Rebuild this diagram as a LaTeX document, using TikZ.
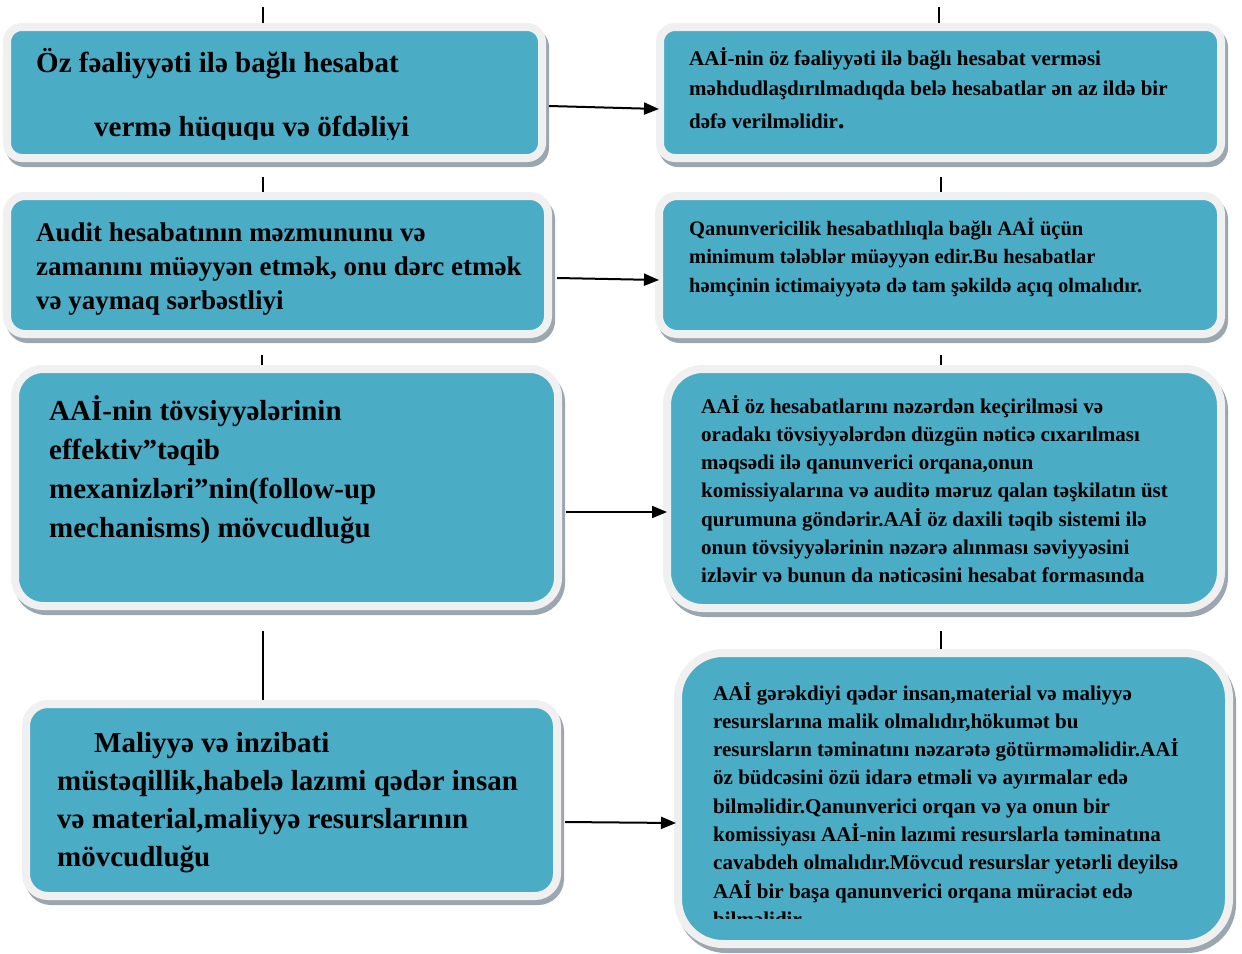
\documentclass[tikz,border=0pt]{standalone}
\usepackage{fontspec}
\setmainfont{Liberation Serif}
\usetikzlibrary{shadows,arrows.meta}
\definecolor{tealfill}{HTML}{4BACC6}
\definecolor{framec}{HTML}{F0F0F0}
\definecolor{shadc}{HTML}{9BA7B0}
\begin{document}
\begin{tikzpicture}[x=1pt,y=-1pt,
  box/.style={draw=framec, fill=tealfill, line width=8pt, inner sep=0pt,
    drop shadow={shadow xshift=3pt,shadow yshift=-5pt,opacity=1,fill=shadc,draw=shadc}},
  conn/.style={line width=2pt, draw=black},
  arr/.style={conn, -{Triangle[length=15pt,width=12pt]}},
  txt/.style={anchor=base west, inner sep=0pt, font=\bfseries}
]
\useasboundingbox[fill=white] (0,0) rectangle (1242,953);

% boxes
\node[box, minimum width=535pt, minimum height=131pt, rounded corners=15pt] (L1) at (274.5,92.5) {};
\node[box, minimum width=561pt, minimum height=131pt, rounded corners=15pt] (R1) at (940.5,92.5) {};
\node[box, minimum width=541pt, minimum height=138pt, rounded corners=18pt] (L2) at (277.5,265) {};
\node[box, minimum width=562pt, minimum height=138pt, rounded corners=18pt] (R2) at (940,265) {};
\node[box, minimum width=543pt, minimum height=237pt, rounded corners=28pt] (L3) at (286.5,487.5) {};
\node[box, minimum width=554pt, minimum height=239pt, rounded corners=36pt] (R3) at (944,488.5) {};
\node[box, minimum width=531pt, minimum height=192pt, rounded corners=22pt] (L4) at (291.5,800) {};
\node[box, minimum width=551pt, minimum height=291pt, rounded corners=45pt] (R4) at (953.5,798.5) {};

% free ends of the vertical ticks
\coordinate (t1l) at (263,7);
\coordinate (t1r) at (939,7);
\coordinate (t2l) at (263,177);
\coordinate (t2r) at (941,177);
\coordinate (t3l) at (262,355);
\coordinate (t3r) at (941,355);
\coordinate (t4l) at (263,631);
\coordinate (t4r) at (941,631);

\draw[conn] ([xshift=-11.5pt]L1.north) -- (t1l);
\draw[conn] ([xshift=-1.5pt]R1.north) -- (t1r);
\draw[conn] ([xshift=-14.5pt]L2.north) -- (t2l);
\draw[conn] ([xshift=1pt]R2.north) -- (t2r);
\draw[conn] ([xshift=-24.5pt]L3.north) -- (t3l);
\draw[conn] ([xshift=-3pt]R3.north) -- (t3r);
\draw[conn] ([xshift=-28.5pt]L4.north) -- (t4l);
\draw[conn] ([xshift=-12.5pt]R4.north) -- (t4r);

% arrows
\draw[arr] ([xshift=3pt,yshift=-13.5pt]L1.east) -- ([xshift=3pt,yshift=-16.5pt]R1.west);
\draw[arr] ([xshift=5pt,yshift=-13pt]L2.east) -- ([xshift=4pt,yshift=-15pt]R2.west);
\draw[arr] ([xshift=4pt,yshift=-24.5pt]L3.east) -- ([xshift=4pt,yshift=-23.5pt]R3.west);
\draw[arr] ([xshift=4pt,yshift=-22pt]L4.east) -- ([xshift=2pt,yshift=-24.5pt]R4.west);

% texts
\begin{scope}
\clip (0,0) rectangle (1242,139);
\node[txt] (L1t) at (36,72) {\parbox[t]{600pt}{\raggedright\fontsize{29}{64}\selectfont
Öz fəaliyyəti ilə bağlı hesabat\\
\hspace*{58pt}vermə hüququ və öfdəliyi}};
\end{scope}

\node[txt] (R1t) at (689,65) {\parbox[t]{600pt}{\raggedright\fontsize{21}{30}\selectfont
AAİ-nin öz fəaliyyəti ilə bağlı hesabat verməsi\\
məhdudlaşdırılmadıqda belə hesabatlar ən az ildə bir\\[3pt]
dəfə verilməlidir{\fontsize{27}{30}\selectfont .}}};

\node[txt] (L2t) at (36,241) {\parbox[t]{600pt}{\raggedright\fontsize{27}{34}\selectfont
Audit hesabatının məzmununu və\\
zamanını müəyyən etmək, onu dərc etmək\\
və yaymaq sərbəstliyi}};

\node[txt] (R2t) at (689,235) {\parbox[t]{600pt}{\raggedright\fontsize{20.5}{28.5}\selectfont
Qanunvericilik hesabatlılıqla bağlı AAİ üçün\\
minimum tələblər müəyyən edir.Bu hesabatlar\\
həmçinin ictimaiyyətə də tam şəkildə açıq olmalıdır.}};

\node[txt] (L3t) at (49,420) {\parbox[t]{600pt}{\raggedright\fontsize{29}{39}\selectfont
AAİ-nin tövsiyyələrinin\\
effektiv”təqib\\
mexanizləri”nin(follow-up\\
mechanisms) mövcudluğu}};

\node[txt] (R3t) at (701,413) {\parbox[t]{600pt}{\raggedright\fontsize{21}{28.3}\selectfont
AAİ öz hesabatlarını nəzərdən keçirilməsi və\\
oradakı tövsiyyələrdən düzgün nəticə cıxarılması\\
məqsədi ilə qanunverici orqana,onun\\
komissiyalarına və auditə məruz qalan təşkilatın üst\\
qurumuna göndərir.AAİ öz daxili təqib sistemi ilə\\
onun tövsiyyələrinin nəzərə alınması səviyyəsini\\
izləvir və bunun da nəticəsini hesabat formasında}};

\node[txt] (L4t) at (57,752) {\parbox[t]{600pt}{\raggedright\fontsize{29}{38.3}\selectfont
\hspace*{37pt}Maliyyə və inzibati\\
müstəqillik,habelə lazımi qədər insan\\
və material,maliyyə resurslarının\\
mövcudluğu}};

\begin{scope}
\clip (0,0) rectangle (1242,918);
\node[txt] (R4t) at (713,700) {\parbox[t]{600pt}{\raggedright\fontsize{21}{28.3}\selectfont
AAİ gərəkdiyi qədər insan,material və maliyyə\\
resurslarına malik olmalıdır,hökumət bu\\
resursların təminatını nəzarətə götürməməlidir.AAİ\\
öz büdcəsini özü idarə etməli və ayırmalar edə\\
bilməlidir.Qanunverici orqan və ya onun bir\\
komissiyası AAİ-nin lazımi resurslarla təminatına\\
cavabdeh olmalıdır.Mövcud resurslar yetərli deyilsə\\
AAİ bir başa qanunverici orqana müraciət edə\\
bilməlidir.}};
\end{scope}
\end{tikzpicture}
\end{document}
